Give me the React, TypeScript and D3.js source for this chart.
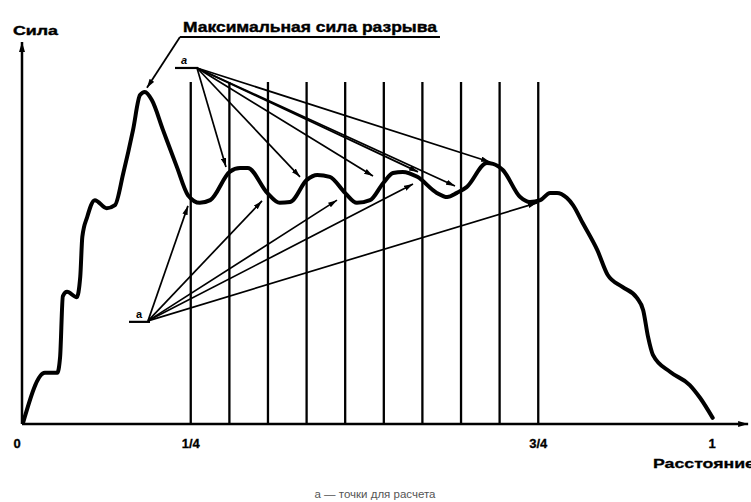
import React from "react";
import * as d3 from "d3";

// Force–distance curve (distance as fraction of the total, force in arbitrary units)
const distance = [
  0.009, 0.04, 0.058, 0.062, 0.066, 0.072, 0.086, 0.091, 0.094, 0.101, 0.112, 0.129, 0.141, 0.153, 0.167,
  0.177, 0.184, 0.194, 0.21, 0.23, 0.246, 0.263, 0.278, 0.306, 0.321, 0.332, 0.36, 0.378, 0.393, 0.417,
  0.432, 0.45, 0.472, 0.489, 0.508, 0.527, 0.541, 0.555, 0.576, 0.604, 0.619, 0.633, 0.647, 0.676, 0.685,
  0.699, 0.724, 0.738, 0.753, 0.767, 0.777, 0.791, 0.8, 0.814, 0.835, 0.85, 0.871, 0.892, 0.901, 0.908,
  0.915, 0.94, 0.968, 0.983, 1.001,
];
const force = [
  0.5, 13.4, 13.4, 17.5, 33.5, 34.6, 33.2, 38.5, 49.0, 54.2, 58.6, 56.5, 57.3, 65.7, 77.0,
  86.1, 86.9, 84.8, 77.0, 67.3, 59.9, 57.9, 58.6, 66.0, 67.0, 67.0, 60.5, 57.9, 58.1, 63.9,
  65.2, 64.7, 60.5, 57.9, 58.6, 63.1, 65.7, 66.0, 64.7, 60.5, 59.4, 60.5, 62.0, 68.3, 68.1,
  66.5, 59.4, 58.1, 58.6, 60.5, 60.5, 59.2, 57.3, 52.6, 45.5, 39.0, 35.9, 33.0, 29.8, 22.8,
  18.1, 13.6, 10.2, 6.8, 1.6,
];

// Vertical cut lines between 1/4 and 3/4
const cutLines = [0.25, 0.3056, 0.3611, 0.4167, 0.4722, 0.5278, 0.5833, 0.6389, 0.6944, 0.75];
const cutTop = 89.5;

const tickValues = [0, 0.25, 0.75, 1];
const tickLabels = ["0", "1/4", "3/4", "1"];

// Calculation points "а"
const upperA = [0.259, 93.2];
const lowerA = [0.1885, 27.0];
const upperTargetsX = [0.3007, 0.4072, 0.5122, 0.577, 0.6302, 0.6806];
const upperTargetsY = [67.3, 64.7, 64.9, 66.0, 62.3, 68.6];
const lowerTargetsX = [0.246, 0.3525, 0.4604, 0.5698, 0.7482];
const lowerTargetsY = [57.1, 58.4, 58.6, 62.8, 57.9];

// Leader to maximum force
const leaderStart = [0.2345, 101.3];
const leaderTip = [0.187, 88.0];
const leaderEndX = 0.6086;

const W = 751;
const H = 502;

export default function App() {
  const x = d3.scaleLinear().domain([0, 1]).range([17, 712]);
  const y = d3.scaleLinear().domain([0, 100]).range([424, 42]);
  const axisX = x(0) + 5;
  const axisY = y(0);

  const line = d3
    .line<number>()
    .x((_, i) => x(distance[i]))
    .y((d) => y(d))
    .curve(d3.curveMonotoneX);

  const font = "'Liberation Sans', Arial, sans-serif";

  return (
    <div style={{ position: "fixed", left: 0, top: 0, width: W, height: H, background: "#fff" }}>
      <svg width={W} height={H} viewBox={`0 0 ${W} ${H}`}>
        <defs>
          <marker id="ah" viewBox="0 0 10 6" refX="10" refY="3" markerWidth="9" markerHeight="5.5" markerUnits="userSpaceOnUse" orient="auto">
            <path d="M0,0 L10,3 L0,6 z" fill="#000" />
          </marker>
          <marker id="axh" viewBox="0 0 10 6" refX="10" refY="3" markerWidth="12" markerHeight="6" markerUnits="userSpaceOnUse" orient="auto">
            <path d="M0,0 L10,3 L0,6 z" fill="#000" />
          </marker>
        </defs>

        {/* axes */}
        <line x1={axisX} y1={axisY} x2={axisX} y2={y(100)} stroke="#000" strokeWidth={2.5} markerEnd="url(#axh)" />
        <line x1={axisX} y1={axisY} x2={x(1.052)} y2={axisY} stroke="#000" strokeWidth={2.5} markerEnd="url(#axh)" />

        {/* vertical cut lines */}
        {cutLines.map((c, i) => (
          <line key={i} x1={x(c)} x2={x(c)} y1={y(cutTop)} y2={axisY} stroke="#000" strokeWidth={2.3} />
        ))}

        {/* arrows from calculation points */}
        {upperTargetsX.map((tx, i) => (
          <line key={"u" + i} x1={x(upperA[0])} y1={y(upperA[1])} x2={x(tx)} y2={y(upperTargetsY[i])} stroke="#000" strokeWidth={1.7} markerEnd="url(#ah)" />
        ))}
        {lowerTargetsX.map((tx, i) => (
          <line key={"l" + i} x1={x(lowerA[0])} y1={y(lowerA[1])} x2={x(tx)} y2={y(lowerTargetsY[i])} stroke="#000" strokeWidth={1.7} markerEnd="url(#ah)" />
        ))}

        {/* curve */}
        <path d={line(force) || ""} fill="none" stroke="#000" strokeWidth={4} strokeLinejoin="round" strokeLinecap="round" />

        {/* point markers */}
        <line x1={x(upperA[0]) - 22} x2={x(upperA[0]) + 1} y1={y(upperA[1])} y2={y(upperA[1])} stroke="#000" strokeWidth={2.2} />
        <text x={x(upperA[0]) - 13} y={y(upperA[1]) - 4} fontFamily={font} fontWeight="bold" fontStyle="italic" fontSize={11} textAnchor="middle">а</text>
        <line x1={x(lowerA[0]) - 19} x2={x(lowerA[0]) + 2} y1={y(lowerA[1]) + 1} y2={y(lowerA[1]) + 1} stroke="#000" strokeWidth={2.2} />
        <text x={x(lowerA[0]) - 9} y={y(lowerA[1]) - 3} fontFamily={font} fontWeight="bold" fontSize={11} textAnchor="middle">а</text>

        {/* leader for maximum force */}
        <line x1={x(leaderStart[0])} y1={y(leaderStart[1])} x2={x(leaderEndX)} y2={y(leaderStart[1])} stroke="#000" strokeWidth={2} />
        <line x1={x(leaderStart[0])} y1={y(leaderStart[1])} x2={x(leaderTip[0])} y2={y(leaderTip[1])} stroke="#000" strokeWidth={1.8} markerEnd="url(#ah)" />
        <text x={x(leaderStart[0]) + 3} y={y(leaderStart[1]) - 5} fontFamily={font} fontWeight="bold" fontSize={15} textLength={254} lengthAdjust="spacingAndGlyphs" stroke="#000" strokeWidth={0.4}>Максимальная сила разрыва</text>

        {/* axis labels */}
        <text x={13} y={35} fontFamily={font} fontWeight="bold" fontSize={13} textLength={45} lengthAdjust="spacingAndGlyphs" stroke="#000" strokeWidth={0.4}>Сила</text>
        {tickValues.map((v, i) => (
          <text key={i} x={x(v)} y={448} fontFamily={font} fontWeight="bold" fontSize={13} textAnchor="middle" stroke="#000" strokeWidth={0.3}>{tickLabels[i]}</text>
        ))}
        <text x={653} y={468} fontFamily={font} fontWeight="bold" fontSize={13} textLength={102} lengthAdjust="spacingAndGlyphs" stroke="#000" strokeWidth={0.3}>Расстояние</text>

        {/* caption */}
        <text x={375} y={498} fontFamily={font} fontSize={11.5} fill="#555" textAnchor="middle">а — точки для расчета</text>
      </svg>
    </div>
  );
}
